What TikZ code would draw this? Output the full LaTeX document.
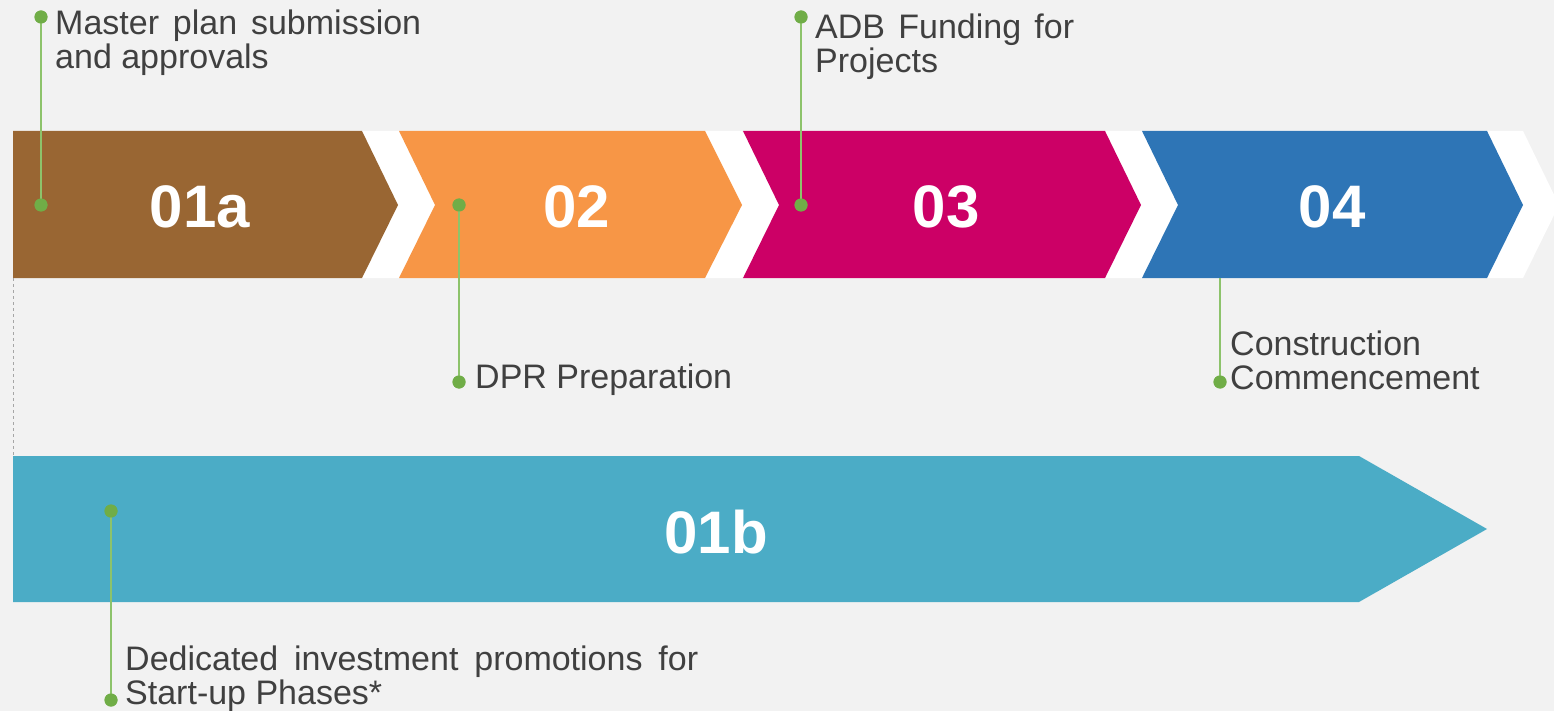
\documentclass[tikz,border=0pt]{standalone}
\usepackage{fontspec}
\setmainfont{Liberation Sans}
\definecolor{bg}{HTML}{F2F2F2}
\definecolor{cbrown}{HTML}{996633}
\definecolor{corange}{HTML}{F79646}
\definecolor{cmag}{HTML}{CC0066}
\definecolor{cblue}{HTML}{2E75B6}
\definecolor{cteal}{HTML}{4BACC6}
\definecolor{cdot}{HTML}{70AD47}
\definecolor{cline}{HTML}{8DC36B}
\definecolor{ctext}{HTML}{404040}
\begin{document}
\begin{tikzpicture}[x=1pt,y=-1pt,
  numlabel/.style={text=white,font=\fontsize{60}{60}\selectfont\bfseries,anchor=base,inner sep=0},
  calltext/.style={text=ctext,font=\fontsize{34}{34}\selectfont,anchor=base west,inner sep=0},
  gdot/.style={circle,fill=cdot,inner sep=0,minimum size=13pt},
  gline/.style={draw=cline,line width=2pt},
  gapfill/.style={fill=white}]
\fill[bg] (0,0) rectangle (1554,711);
\useasboundingbox (0,0) rectangle (1554,711);
\begin{scope}
\clip (0,0) rectangle (1554,711);
% white gaps
\fill[gapfill] (13,131) -- (399,131) -- (435,205) -- (399,278) -- (13,278) -- cycle;
\fill[gapfill] (399,131) -- (742,131) -- (779,205) -- (742,278) -- (399,278) -- cycle;
\fill[gapfill] (743,131) -- (1142,131) -- (1178,205) -- (1142,278) -- (743,278) -- cycle;
\fill[gapfill] (1142,131) -- (1523,131) -- (1559,205) -- (1523,278) -- (1142,278) -- cycle;
\end{scope}
% chevrons
\fill[cbrown] (13,131) -- (362,131) -- (398,205) -- (362,278) -- (13,278) -- cycle;
\fill[corange] (399,131) -- (705,131) -- (742,205) -- (705,278) -- (399,278) -- (435,205) -- cycle;
\fill[cmag] (743,131) -- (1105,131) -- (1141,205) -- (1105,278) -- (743,278) -- (779,205) -- cycle;
\fill[cblue] (1142,131) -- (1487,131) -- (1523,205) -- (1487,278) -- (1142,278) -- (1178,205) -- cycle;
\fill[cteal] (13,456) -- (1359,456) -- (1487,529) -- (1359,602) -- (13,602) -- cycle;
% dashed guide
\coordinate (g1) at (13,278);
\coordinate (g2) at (13,456);
\draw[gray!70,line width=0.8pt,dash pattern=on 3pt off 3pt] (g1) -- (g2);
% numbers
\node[numlabel] (n1a) at (200,228) {01a};
\node[numlabel] (n2) at (577,228) {02};
\node[numlabel] (n3) at (946,228) {03};
\node[numlabel] (n4) at (1332,228) {04};
\node[numlabel] (n1b) at (716,553) {01b};
% callouts
\node[gdot] (a1) at (41,17) {};
\node[gdot] (a2) at (41,205) {};
\node[gdot] (b1) at (459,205) {};
\node[gdot] (b2) at (459,382) {};
\node[gdot] (c1) at (801,17) {};
\node[gdot] (c2) at (801,205) {};
\coordinate (d1) at (1220,278);
\node[gdot] (d2) at (1220,382) {};
\node[gdot] (e1) at (111,511) {};
\node[gdot] (e2) at (111,700) {};
\draw[gline] (a1.center) -- (a2.center);
\draw[gline] (b1.center) -- (b2.center);
\draw[gline] (c1.center) -- (c2.center);
\draw[gline] (d1) -- (d2.center);
\draw[gline] (e1.center) -- (e2.center);
\node[gdot] at (a1) {};
\node[gdot] at (a2) {};
\node[gdot] at (b1) {};
\node[gdot] at (b2) {};
\node[gdot] at (c1) {};
\node[gdot] at (c2) {};
\node[gdot] at (d2) {};
\node[gdot] at (e1) {};
\node[gdot] at (e2) {};
% texts
\node[calltext] (ta) at (55,35) {\parbox[t]{400pt}{\makebox[366pt][s]{Master plan submission}\\and approvals}};
\node[calltext] (tb) at (475,388) {DPR Preparation};
\node[calltext] (tc) at (815,39) {\parbox[t]{300pt}{\makebox[259pt][s]{ADB Funding for}\\Projects}};
\node[calltext] (td) at (1230,355) {\parbox[t]{320pt}{Construction\\Commencement}};
\node[calltext] (te) at (125,670) {\parbox[t]{600pt}{\makebox[573pt][s]{Dedicated investment promotions for}\\Start-up Phases*}};
\end{tikzpicture}
\end{document}
